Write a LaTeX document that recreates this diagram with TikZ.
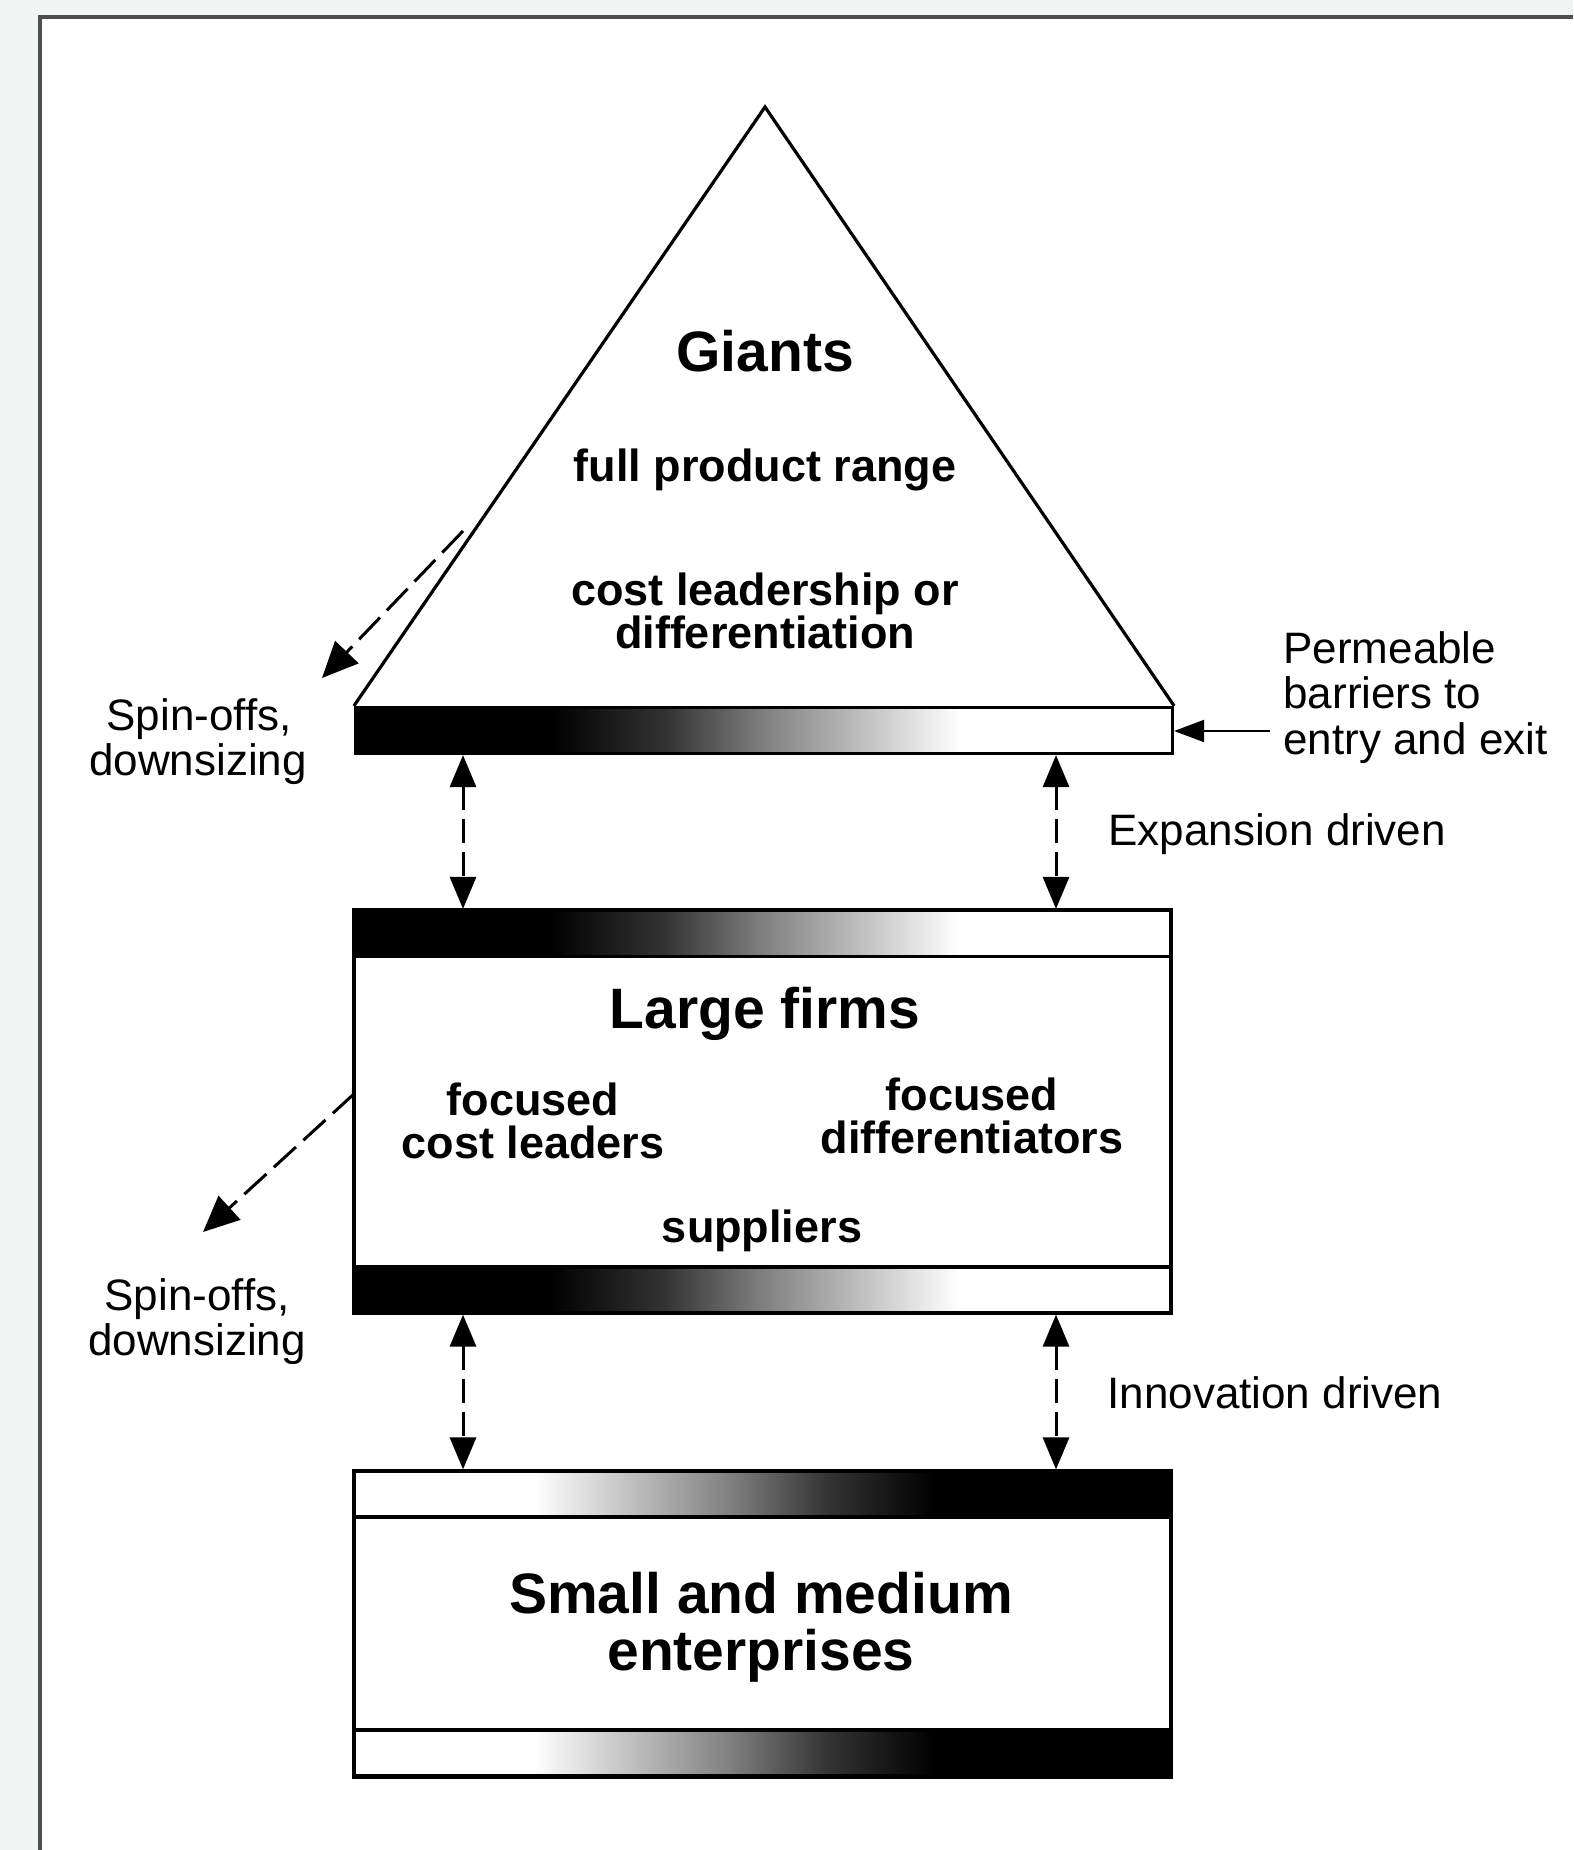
\documentclass[tikz,border=0pt]{standalone}
\usepackage{fontspec}
\setmainfont{Liberation Sans}
\usetikzlibrary{arrows.meta,calc}
\definecolor{bggray}{RGB}{240,244,243}
\definecolor{framegray}{RGB}{78,78,78}
\pgfdeclarehorizontalshading{bwbar}{100bp}{color(0bp)=(black); color(37bp)=(black); color(44bp)=(black!80); color(50bp)=(black!50); color(56bp)=(black!25); color(62bp)=(white); color(100bp)=(white)}
\pgfdeclarehorizontalshading{wbbar}{100bp}{color(0bp)=(white); color(36bp)=(white); color(42bp)=(black!25); color(48bp)=(black!50); color(54bp)=(black!80); color(60.5bp)=(black); color(100bp)=(black)}
\begin{document}
\begin{tikzpicture}[x=0.5pt,y=-0.5pt,
  lbl/.style={font=\fontsize{22}{22}\selectfont, inner sep=0, anchor=base},
  lblw/.style={lbl, anchor=base west},
  inb/.style={font=\fontsize{22.5}{22}\selectfont\bfseries, inner sep=0, anchor=base},
  ttl/.style={font=\fontsize{28.5}{28}\selectfont\bfseries, inner sep=0, anchor=base},
  outline/.style={draw, line width=1.6pt},
  boxnode/.style={outline, rectangle, inner sep=0, minimum width=408.5pt},
  barBW/.style={boxnode, minimum height=23pt, shade, shading=bwbar},
  barWB/.style={boxnode, minimum height=23pt, shade, shading=wbbar},
  dblarrow/.style={line width=1.5pt, dash pattern=on 12pt off 4.5pt,
    {Triangle[width=13pt,length=16pt]}-{Triangle[width=13pt,length=16pt]}},
  spinarrow/.style={line width=1.5pt, dash pattern=on 15pt off 5pt,
    -{Triangle[width=16pt,length=18pt]}},
  permarrow/.style={line width=1pt, -{Triangle[width=11pt,length=15pt]}},
]
% page and frame
\fill[bggray] (0,0) rectangle (1573,1850);
\useasboundingbox (0,0) rectangle (1573,1850);
\fill[white] (40,17) rectangle (1573,1850);
\draw[framegray, line width=2pt] (39.5,1850) -- (39.5,17) -- (1573,17);

% Giants triangle and bar
\coordinate (apex) at (765,107);
\node[barBW] (gbar) at (764,730.5) {};
\draw[outline, line join=miter] (gbar.north west) -- (apex) -- (gbar.north east);

\node[ttl] (giants) at (765,372) {Giants};
\node[inb] (fpr) at (765,481) {full product range};
\node[inb] (clo1) at (765,605) {cost leadership or};
\node[inb] (clo2) at (765,648) {differentiation};

% Large firms box
\node[boxnode, minimum height=201.5pt] (large) at (762.5,1111.5) {};
\node[barBW] (ltop) at (762.5,933.5) {};
\node[barBW] (lbot) at (762.5,1290) {};
\node[ttl] (lft) at (765,1028) {Large firms};
\node[inb] (fcl1) at (533,1115) {focused};
\node[inb] (fcl2) at (533,1158) {cost leaders};
\node[inb] (fd1) at (972,1110) {focused};
\node[inb] (fd2) at (972,1153) {differentiators};
\node[inb] (sup) at (762,1242) {suppliers};

% SME box
\node[boxnode, minimum height=153pt] (sme) at (762.5,1624) {};
\node[barWB] (stop) at (762.5,1494) {};
\node[barWB] (sbot) at (762.5,1753) {};
\node[ttl] (sme1) at (761,1613) {Small and medium};
\node[ttl] (sme2) at (761,1670) {enterprises};

% vertical double arrows
\coordinate (xL) at (463,0);
\coordinate (xR) at (1056,0);
\draw[dblarrow] (gbar.south -| xL) -- (ltop.north -| xL);
\draw[dblarrow] (gbar.south -| xR) -- (ltop.north -| xR);
\draw[dblarrow] (lbot.south -| xL) -- (stop.north -| xL);
\draw[dblarrow] (lbot.south -| xR) -- (stop.north -| xR);

\node[lblw] (exp) at (1108,845) {Expansion driven};
\node[lblw] (inn) at (1107,1408) {Innovation driven};

% permeable barriers
\node[lblw] (perm1) at (1283,663) {Permeable};
\node[lblw] (perm2) at (1283,708) {barriers to};
\node[lblw] (perm3) at (1283,754) {entry and exit};
\coordinate (permstart) at (1270,731);
\draw[permarrow] (permstart) -- (gbar.east |- permstart);

% spin-offs
\coordinate (s1a) at (463,531);
\coordinate (s1b) at (322,678);
\draw[spinarrow] (s1a) -- (s1b);
\node[lbl] (spA1) at (199,730) {Spin-offs,};
\node[lbl] (spA2) at (198,775) {downsizing};

\coordinate (s2a) at (355,1093);
\coordinate (s2b) at (203,1232);
\draw[spinarrow] (s2a) -- (s2b);
\node[lbl] (spB1) at (197,1310) {Spin-offs,};
\node[lbl] (spB2) at (197,1355) {downsizing};
\end{tikzpicture}
\end{document}
